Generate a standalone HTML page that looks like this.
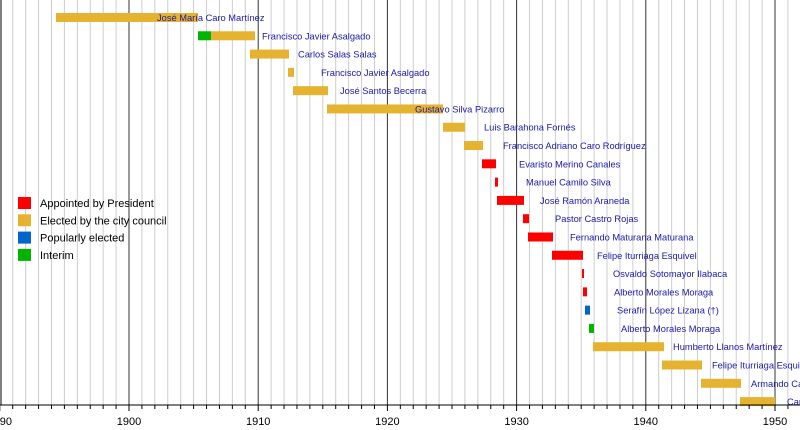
<!DOCTYPE html>
<html><head><meta charset="utf-8"><style>
html,body{margin:0;padding:0;background:#fff;}
svg text{font-family:"Liberation Sans",sans-serif;}
</style></head><body>
<svg width="800" height="425" xmlns="http://www.w3.org/2000/svg">
<rect width="800" height="425" fill="#fff"/>
<g id="grid"></g>
<g id="bars"></g>
<g id="axis"></g>
<g id="legend"></g>
</svg>
<script>
var ns="http://www.w3.org/2000/svg";
function el(p,t,a,txt){var e=document.createElementNS(ns,t);for(var k in a)e.setAttribute(k,a[k]);if(txt)e.textContent=txt;document.getElementById(p).appendChild(e);}
function X(y){return 129+(y-1900)*12.92;}
for(var y=1890;y<=1951;y++){var x=X(y);var maj=(y%10==0);
 if(y>1890)el("grid","line",{x1:x,x2:x,y1:0,y2:405,stroke:maj?"#333":"#ccc","stroke-width":1});
 el("axis","line",{x1:x,x2:x,y1:405,y2:maj?411:409,stroke:"#000","stroke-width":1});
 if(maj)el("axis","text",{x:x,y:425,"font-size":"11","text-anchor":"middle",fill:"#000"},String(y));}
el("axis","line",{x1:0,x2:800,y1:405,y2:405,stroke:"#000","stroke-width":1});
el("axis","line",{x1:1,x2:1,y1:0,y2:405,stroke:"#000","stroke-width":1});
var Y="#e6b331",R="#ff0000",B="#0066cc",G="#00b400";
var rows=[
[[56,198,Y]],157,"José María Caro Martínez",
[[198,211,G],[211,255,Y]],262,"Francisco Javier Asalgado",
[[250,289,Y]],298,"Carlos Salas Salas",
[[288,294,Y]],321,"Francisco Javier Asalgado",
[[293,328,Y]],340,"José Santos Becerra",
[[327,443,Y]],415,"Gustavo Silva Pizarro",
[[443,465,Y]],484,"Luis Barahona Fornés",
[[464,483,Y]],503,"Francisco Adriano Caro Rodríguez",
[[482,496,R]],519,"Evaristo Merino Canales",
[[495,498,R]],526,"Manuel Camilo Silva",
[[497,524,R]],540,"José Ramón Araneda",
[[523,529,R]],555,"Pastor Castro Rojas",
[[528,553,R]],570,"Fernando Maturana Maturana",
[[552,583,R]],597,"Felipe Iturriaga Esquivel",
[[582,584,R]],613,"Osvaldo Sotomayor Ilabaca",
[[583,587,R]],614,"Alberto Morales Moraga",
[[585,590,B]],617,"Serafín López Lizana (†)",
[[589,594,G]],621,"Alberto Morales Moraga",
[[593,664,Y]],673,"Humberto Llanos Martínez",
[[662,702,Y]],712,"Felipe Iturriaga Esquivel",
[[701,741,Y]],751,"Armando Castillo",
[[740,775,Y]],787,"Carlos"];
for(var i=0;i<rows.length/3;i++){var c=17.5+i*18.29;var segs=rows[i*3];
 segs.forEach(function(s){el("bars","rect",{x:s[0],y:c-4.5,width:s[1]-s[0],height:9,fill:s[2]});});
 el("bars","text",{x:rows[i*3+1],y:c+3.5,"font-size":"9.3",fill:"#1a1aa6"},rows[i*3+2]);}
var L=[[R,"Appointed by President"],[Y,"Elected by the city council"],[B,"Popularly elected"],[G,"Interim"]];
L.forEach(function(l,i){var yy=197+i*17.3;el("legend","rect",{x:18,y:yy,width:13,height:12,fill:l[0]});
 el("legend","text",{x:40,y:yy+10,"font-size":"11",fill:"#000"},l[1]);});
</script>
</body></html>
